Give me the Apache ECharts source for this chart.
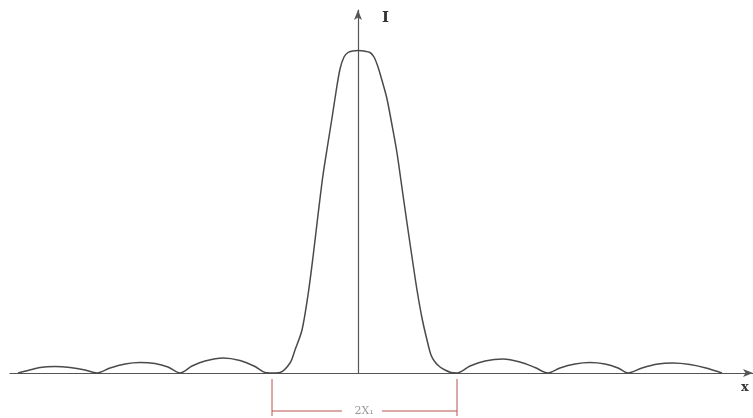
<!DOCTYPE html>
<html>
<head>
<meta charset="utf-8">
<script src="https://cdn.jsdelivr.net/npm/echarts@6/dist/echarts.min.js"></script>
<style>html,body{margin:0;padding:0;background:#fff;}#chart{width:753px;height:418px;}</style>
</head>
<body>
<div id="chart"></div>
<script>
// Position x (arbitrary units, 0 = central axis) and intensity I (arbitrary units)
const positionX = [
  -34.0,-33.0,-31.8,-30.3,-28.8,-27.3,-26.1,
  -24.8,-23.3,-21.8,-20.3,-19.0,-17.8,
  -16.6,-15.3,-13.5,-11.8,-10.3,-9.3,
  -8.5,-7.8,-6.8,-6.3,-5.6,-5.0,-4.5,-4.0,-3.5,-3.0,-2.6,-2.2,-1.8,-1.4,-1.0,-0.5,0,
  0.6,1.2,1.6,2.0,2.5,2.9,3.4,3.9,4.4,4.9,5.4,5.9,6.4,6.9,7.3,7.7,8.2,8.7,9.3,9.9,
  11.2,12.7,14.5,16.2,17.7,19.0,
  20.2,21.7,23.2,24.7,26.0,27.0,
  28.4,30.0,31.5,33.2,34.8,36.4
];
const intensityI = [
  0,0.25,0.55,0.65,0.55,0.3,0,
  0.5,0.9,1.05,0.95,0.6,0,
  0.7,1.2,1.5,1.25,0.65,0.05,
  0,0.05,1.0,2.3,4.3,7.8,11.6,15.8,19.8,23.0,25.5,28.1,30.4,31.6,32.05,32.2,32.25,
  32.2,32.05,31.6,30.6,28.9,27.4,24.8,22.0,18.5,15.0,11.6,8.3,5.5,3.3,1.8,1.1,0.6,0.3,0.05,0,
  0.7,1.2,1.4,1.1,0.55,0,
  0.5,0.9,1.05,0.9,0.5,0,
  0.5,0.9,1.0,0.85,0.5,0
];
// Width annotation 2X1: ends of the central maximum (drawn below the x axis)
const bracketEndsX = [-8.6, 9.9];
const bracketTickY = [-0.6, -4.3];
const bracketLineY = -3.8;
const bracketGapX = [-1.6, 2.4];
const bracketLabel = '2X\u2081';
const bracketLabelX = 0.6;

const curve = positionX.map((x, i) => [x, intensityI[i]]);
const red = '#b85050';
const bracketSegs = [
  [[bracketEndsX[0], bracketTickY[0]], [bracketEndsX[0], bracketTickY[1]]],
  [[bracketEndsX[1], bracketTickY[0]], [bracketEndsX[1], bracketTickY[1]]],
  [[bracketEndsX[0], bracketLineY], [bracketGapX[0], bracketLineY]],
  [[bracketGapX[1], bracketLineY], [bracketEndsX[1], bracketLineY]]
];

const chart = echarts.init(document.getElementById('chart'), null, {renderer: 'canvas'});
chart.setOption({
  animation: false,
  backgroundColor: '#fff',
  grid: {left: 10, right: 0, top: 10, bottom: 45},
  xAxis: {
    type: 'value', min: -34.8, max: 39.5,
    name: 'x', nameLocation: 'end', nameGap: -12,
    nameTextStyle: {fontFamily: 'DejaVu Serif', fontWeight: 'bold', fontSize: 13, color: '#333',
      verticalAlign: 'top', padding: [8, 0, 0, 0]},
    axisLine: {show: true, onZero: true, symbol: ['none', 'arrow'], symbolSize: [6, 10],
      lineStyle: {color: '#555', width: 1.2}},
    axisTick: {show: false}, axisLabel: {show: false}, splitLine: {show: false}
  },
  yAxis: {
    type: 'value', min: 0, max: 36.3,
    name: 'I', nameLocation: 'end', nameGap: -8,
    nameTextStyle: {fontFamily: 'DejaVu Serif', fontWeight: 'bold', fontSize: 15, color: '#333',
      align: 'left', verticalAlign: 'middle', padding: [0, 0, 0, 24]},
    axisLine: {show: true, onZero: true, symbol: ['none', 'arrow'], symbolSize: [6, 10],
      lineStyle: {color: '#555', width: 1.2}},
    axisTick: {show: false}, axisLabel: {show: false}, splitLine: {show: false}
  },
  series: [
    {
      type: 'line', data: curve, smooth: 0.3, symbol: 'none', clip: false,
      lineStyle: {color: '#4a4a4a', width: 1.5}
    }
  ].concat(bracketSegs.map(seg => ({
      type: 'line', data: seg, symbol: 'none', silent: true, clip: false,
      lineStyle: {color: red, width: 1}
  }))).concat([
    {
      type: 'scatter', data: [[bracketLabelX, bracketLineY]], symbolSize: 0, silent: true, clip: false,
      label: {show: true, position: 'inside', formatter: bracketLabel,
        fontFamily: 'DejaVu Serif', fontSize: 11, color: '#808080'}
    }
  ])
});
</script>
</body>
</html>
